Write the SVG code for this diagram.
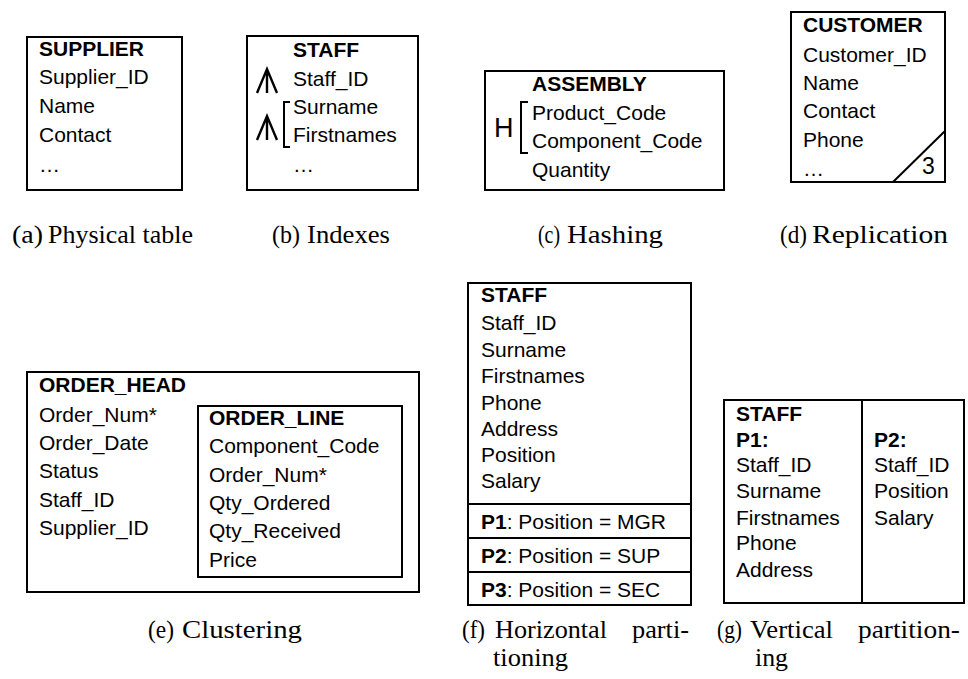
<svg xmlns="http://www.w3.org/2000/svg" width="968" height="679" viewBox="0 0 968 679">
<style>
.box{fill:none;stroke:#000;stroke-width:2}
.ln{fill:none;stroke:#000;stroke-width:2}
.ar{fill:none;stroke:#000;stroke-width:2.4}
.t{font-family:"Liberation Sans",Arial,sans-serif;font-size:21px;fill:#000}
.b{font-weight:bold}
.cap{font-family:"Liberation Serif","Times New Roman",serif;font-size:26px;fill:#000}
</style>
<rect width="968" height="679" fill="#fff"/>

<g id="supplier">
<rect class="box" x="27" y="37" width="155" height="153"/>
<text class="t b" x="39" y="56">SUPPLIER</text>
<text class="t" x="39" y="84">Supplier_ID</text>
<text class="t" x="39" y="113">Name</text>
<text class="t" x="39" y="142">Contact</text>
<text class="t" x="39" y="172">…</text>
<text class="cap" x="12" y="243" textLength="31" lengthAdjust="spacingAndGlyphs">(a)</text>
<text class="cap" x="48" y="243" textLength="145" lengthAdjust="spacingAndGlyphs">Physical table</text>
</g>

<g id="staff-indexes">
<rect class="box" x="247" y="36" width="171" height="154"/>
<text class="t b" x="293" y="57">STAFF</text>
<text class="t" x="293" y="86">Staff_ID</text>
<text class="t" x="293" y="114">Surname</text>
<text class="t" x="293" y="142">Firstnames</text>
<text class="t" x="293" y="172">…</text>
<path class="ar" d="M257,93 L267,69 L277,93 M267,69 V93"/>
<path class="ar" d="M257,140 L267,116 L277,140 M267,116 V140"/>
<path class="ln" d="M290,102 H284 V147 H290"/>
<text class="cap" x="272" y="243" textLength="28" lengthAdjust="spacingAndGlyphs">(b)</text>
<text class="cap" x="307" y="243" textLength="83" lengthAdjust="spacingAndGlyphs">Indexes</text>
</g>

<g id="assembly">
<rect class="box" x="485" y="71" width="239" height="119"/>
<text class="t b" x="532" y="91">ASSEMBLY</text>
<text class="t" x="532" y="120">Product_Code</text>
<text class="t" x="532" y="148">Component_Code</text>
<text class="t" x="532" y="177">Quantity</text>
<text class="t" x="494" y="137" style="font-size:27px">H</text>
<path class="ln" d="M528,102 H521 V153 H528"/>
<text class="cap" x="538" y="243" textLength="22" lengthAdjust="spacingAndGlyphs">(c)</text>
<text class="cap" x="567" y="243" textLength="96" lengthAdjust="spacingAndGlyphs">Hashing</text>
</g>

<g id="customer">
<rect class="box" x="791" y="12" width="154" height="170"/>
<text class="t b" x="803" y="32">CUSTOMER</text>
<text class="t" x="803" y="62">Customer_ID</text>
<text class="t" x="803" y="90">Name</text>
<text class="t" x="803" y="118">Contact</text>
<text class="t" x="803" y="147">Phone</text>
<text class="t" x="803" y="176">…</text>
<path class="ln" d="M893,182 L945,131"/>
<text class="t" x="922" y="174" style="font-size:23px">3</text>
<text class="cap" x="780" y="243" textLength="27" lengthAdjust="spacingAndGlyphs">(d)</text>
<text class="cap" x="812" y="243" textLength="136" lengthAdjust="spacingAndGlyphs">Replication</text>
</g>

<g id="order-head">
<rect class="box" x="27" y="372" width="392" height="220"/>
<text class="t b" x="39" y="392">ORDER_HEAD</text>
<text class="t" x="39" y="422">Order_Num*</text>
<text class="t" x="39" y="450">Order_Date</text>
<text class="t" x="39" y="478">Status</text>
<text class="t" x="39" y="507">Staff_ID</text>
<text class="t" x="39" y="535">Supplier_ID</text>
</g>

<g id="order-line">
<rect class="box" x="198" y="406" width="204" height="171"/>
<text class="t b" x="209" y="425">ORDER_LINE</text>
<text class="t" x="209" y="453">Component_Code</text>
<text class="t" x="209" y="482">Order_Num*</text>
<text class="t" x="209" y="510">Qty_Ordered</text>
<text class="t" x="209" y="538">Qty_Received</text>
<text class="t" x="209" y="567">Price</text>
</g>

<g id="caption-e">
<text class="cap" x="148" y="638" textLength="26" lengthAdjust="spacingAndGlyphs">(e)</text>
<text class="cap" x="182" y="638" textLength="120" lengthAdjust="spacingAndGlyphs">Clustering</text>
</g>

<g id="staff-horizontal">
<rect class="box" x="468" y="283" width="223" height="322"/>
<path class="ln" d="M468,504 H691 M468,538 H691 M468,572 H691"/>
<text class="t b" x="481" y="302">STAFF</text>
<text class="t" x="481" y="330">Staff_ID</text>
<text class="t" x="481" y="357">Surname</text>
<text class="t" x="481" y="383">Firstnames</text>
<text class="t" x="481" y="410">Phone</text>
<text class="t" x="481" y="436">Address</text>
<text class="t" x="481" y="462">Position</text>
<text class="t" x="481" y="488">Salary</text>
<text class="t" x="481" y="529"><tspan class="b">P1</tspan>: Position = MGR</text>
<text class="t" x="481" y="563"><tspan class="b">P2</tspan>: Position = SUP</text>
<text class="t" x="481" y="597"><tspan class="b">P3</tspan>: Position = SEC</text>
<text class="cap" x="462" y="638" textLength="23" lengthAdjust="spacingAndGlyphs">(f)</text>
<text class="cap" x="495" y="638" textLength="112" lengthAdjust="spacingAndGlyphs">Horizontal</text>
<text class="cap" x="632" y="638" textLength="57" lengthAdjust="spacingAndGlyphs">parti-</text>
<text class="cap" x="493" y="666" textLength="75" lengthAdjust="spacingAndGlyphs">tioning</text>
</g>

<g id="staff-vertical">
<rect class="box" x="724" y="400" width="240" height="203"/>
<path class="ln" d="M862,400 V603"/>
<text class="t b" x="736" y="421">STAFF</text>
<text class="t b" x="736" y="447">P1:</text>
<text class="t" x="736" y="472">Staff_ID</text>
<text class="t" x="736" y="498">Surname</text>
<text class="t" x="736" y="525">Firstnames</text>
<text class="t" x="736" y="550">Phone</text>
<text class="t" x="736" y="577">Address</text>
<text class="t b" x="874" y="447">P2:</text>
<text class="t" x="874" y="472">Staff_ID</text>
<text class="t" x="874" y="498">Position</text>
<text class="t" x="874" y="525">Salary</text>
<text class="cap" x="717" y="638" textLength="25" lengthAdjust="spacingAndGlyphs">(g)</text>
<text class="cap" x="750" y="638" textLength="83" lengthAdjust="spacingAndGlyphs">Vertical</text>
<text class="cap" x="858" y="638" textLength="102" lengthAdjust="spacingAndGlyphs">partition-</text>
<text class="cap" x="755" y="666" textLength="33" lengthAdjust="spacingAndGlyphs">ing</text>
</g>
</svg>
